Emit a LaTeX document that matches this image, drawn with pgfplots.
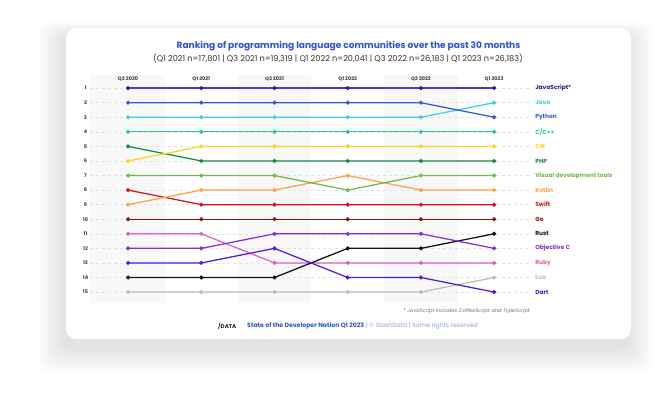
\documentclass[border=0pt]{standalone}
\usepackage{fontspec}
\setmainfont{Poppins}
\usepackage{pgfplots}
\pgfplotsset{compat=1.18}
\usepackage{pgfplotstable}

\definecolor{cjs}{HTML}{4A3FB8}
\definecolor{cjsd}{HTML}{2A1F92}
\definecolor{cjava}{HTML}{3FCFE0}
\definecolor{cpy}{HTML}{3558D8}
\definecolor{ccpp}{HTML}{22D07A}
\definecolor{ccs}{HTML}{FFD21A}
\definecolor{cphp}{HTML}{14884A}
\definecolor{cvdt}{HTML}{72B84A}
\definecolor{ckt}{HTML}{FFA040}
\definecolor{csw}{HTML}{D3141E}
\definecolor{cgo}{HTML}{8B1010}
\definecolor{crust}{HTML}{111111}
\definecolor{cobjc}{HTML}{8030D0}
\definecolor{cruby}{HTML}{E060B8}
\definecolor{clua}{HTML}{BDBDBD}
\definecolor{cdart}{HTML}{5318E0}
\definecolor{ctitle}{HTML}{2F55D4}
\definecolor{cband}{HTML}{F8F8F9}
\definecolor{cgrid}{HTML}{E2E2E6}
\definecolor{cfoot}{HTML}{8EA0E8}

\pgfplotstableread{
x js java py cpp cs php vdt kt sw go rust objc ruby lua dart
0 1 3 2 4 6 5 7 9 8 10 14 12 11 15 13
1 1 3 2 4 5 6 7 8 9 10 14 12 11 15 13
2 1 3 2 4 5 6 7 8 9 10 14 11 13 15 12
3 1 3 2 4 5 6 8 7 9 10 12 11 13 15 14
4 1 3 2 4 5 6 7 8 9 10 12 11 13 15 14
5 1 2 3 4 5 6 7 8 9 10 11 12 13 14 15
}\ranks

\begin{document}
\begin{tikzpicture}[x=1bp,y=1bp]
\fill[white] (0,0) rectangle (660,393);
% shadow
\foreach \i in {1,...,14}{
  \fill[black,opacity=0.008,rounded corners=12bp]
    ({66-3-\i*1.8},{54-9-\i*1.8}) rectangle ({631-3+\i*1.8},{365-8+\i*1.0});
}
% card
\fill[white,rounded corners=10bp] (66,54) rectangle (631,365);
\draw[black!6,rounded corners=10bp,line width=0.5bp] (66,54) rectangle (631,365);

% titles
\node[text=ctitle,font=\fontsize{9.1}{11}\selectfont\bfseries] at (348.5,347) {Ranking of programming language communities over the past 30 months};
\node[text=black!80,font=\fontsize{8.2}{10}\selectfont] at (338,335) {(Q1 2021 n=17,801 | Q3 2021 n=19,319 | Q1 2022 n=20,041 | Q3 2022 n=26,183 | Q1 2023 n=26,183)};

\begin{axis}[
  axis on top,
  at={(90bp,318bp)}, anchor=north west,
  scale only axis, width=440bp, height=228bp,
  xmin=-0.52, xmax=5.49, ymin=0.1, ymax=15.75,
  y dir=reverse, clip=false,
  axis line style={draw=none},
  major tick length=0pt,
  xtick={0,...,5},
  xticklabels={Q3 2020,Q1 2021,Q3 2021,Q1 2022,Q3 2022,Q1 2023},
  xticklabel pos=upper,
  xticklabel style={anchor=center,yshift=-3.5bp,inner sep=0pt,text=black!75,font=\fontsize{5}{5}\selectfont\bfseries},
  ytick={1,...,15},
  yticklabel style={anchor=center,xshift=-4.5bp,inner sep=0pt,text=black!75,font=\fontsize{5}{5}\selectfont\bfseries},
  /pgf/number format/assume math mode=true,
  every axis plot/.append style={line width=1.25bp, mark=*, mark size=1.35bp},
]
\fill[cband] (axis cs:-0.52,0.1) rectangle (axis cs:0.5,15.75);
\fill[cband] (axis cs:1.5,0.1) rectangle (axis cs:2.5,15.75);
\fill[cband] (axis cs:3.5,0.1) rectangle (axis cs:4.5,15.75);
\pgfplotsinvokeforeach{1,...,15}{
  \draw[cgrid,dashed,line width=0.4bp] (axis cs:-0.52,#1) -- (axis cs:5.49,#1);
}
\addplot[clua] table[x=x,y=lua] {\ranks};
\addplot[cgo] table[x=x,y=go] {\ranks};
\addplot[csw] table[x=x,y=sw] {\ranks};
\addplot[ckt] table[x=x,y=kt] {\ranks};
\addplot[cvdt] table[x=x,y=vdt] {\ranks};
\addplot[cphp] table[x=x,y=php] {\ranks};
\addplot[ccs] table[x=x,y=cs] {\ranks};
\addplot[ccpp] table[x=x,y=cpp] {\ranks};
\addplot[cjava] table[x=x,y=java] {\ranks};
\addplot[cpy] table[x=x,y=py] {\ranks};
\addplot[cjs,mark options={fill=cjsd,draw=cjsd}] table[x=x,y=js] {\ranks};
\addplot[cruby] table[x=x,y=ruby] {\ranks};
\addplot[crust] table[x=x,y=rust] {\ranks};
\addplot[cobjc] table[x=x,y=objc] {\ranks};
\addplot[cdart] table[x=x,y=dart] {\ranks};

\begin{scope}[every node/.style={anchor=west,inner sep=0pt,font=\fontsize{5.9}{6}\selectfont\bfseries}]
\node[text=cjsd] at (axis cs:5.56,1) {JavaScript*};
\node[text=cjava] at (axis cs:5.56,2) {Java};
\node[text=cpy] at (axis cs:5.56,3) {Python};
\node[text=ccpp] at (axis cs:5.56,4) {C/C++};
\node[text=ccs] at (axis cs:5.56,5) {C\#};
\node[text=cphp] at (axis cs:5.56,6) {PHP};
\node[text=cvdt] at (axis cs:5.56,7) {Visual development tools};
\node[text=ckt] at (axis cs:5.56,8) {Kotlin};
\node[text=csw] at (axis cs:5.56,9) {Swift};
\node[text=cgo] at (axis cs:5.56,10) {Go};
\node[text=crust] at (axis cs:5.56,11) {Rust};
\node[text=cobjc] at (axis cs:5.56,12) {Objective C};
\node[text=cruby] at (axis cs:5.56,13) {Ruby};
\node[text=clua] at (axis cs:5.56,14) {Lua};
\node[text=cdart] at (axis cs:5.56,15) {Dart};
\end{scope}
\end{axis}

% footnote
\node[anchor=east,inner sep=0pt,text=black!55,font=\fontsize{5.1}{6}\selectfont\itshape] at (530,82) {* JavaScript includes CoffeeScript and TypeScript};
% footer
\node[anchor=west,inner sep=0pt,text=black!85,font=\fontsize{5.6}{6}\selectfont\bfseries] at (218,67) {/DATA};
\node[anchor=west,inner sep=0pt,font=\fontsize{6.2}{7}\selectfont] at (247,67) {\textcolor{ctitle}{\bfseries State of the Developer Nation Q1 2023} \textcolor{cfoot}{| © SlashData | Some rights reserved}};
\end{tikzpicture}
\end{document}
